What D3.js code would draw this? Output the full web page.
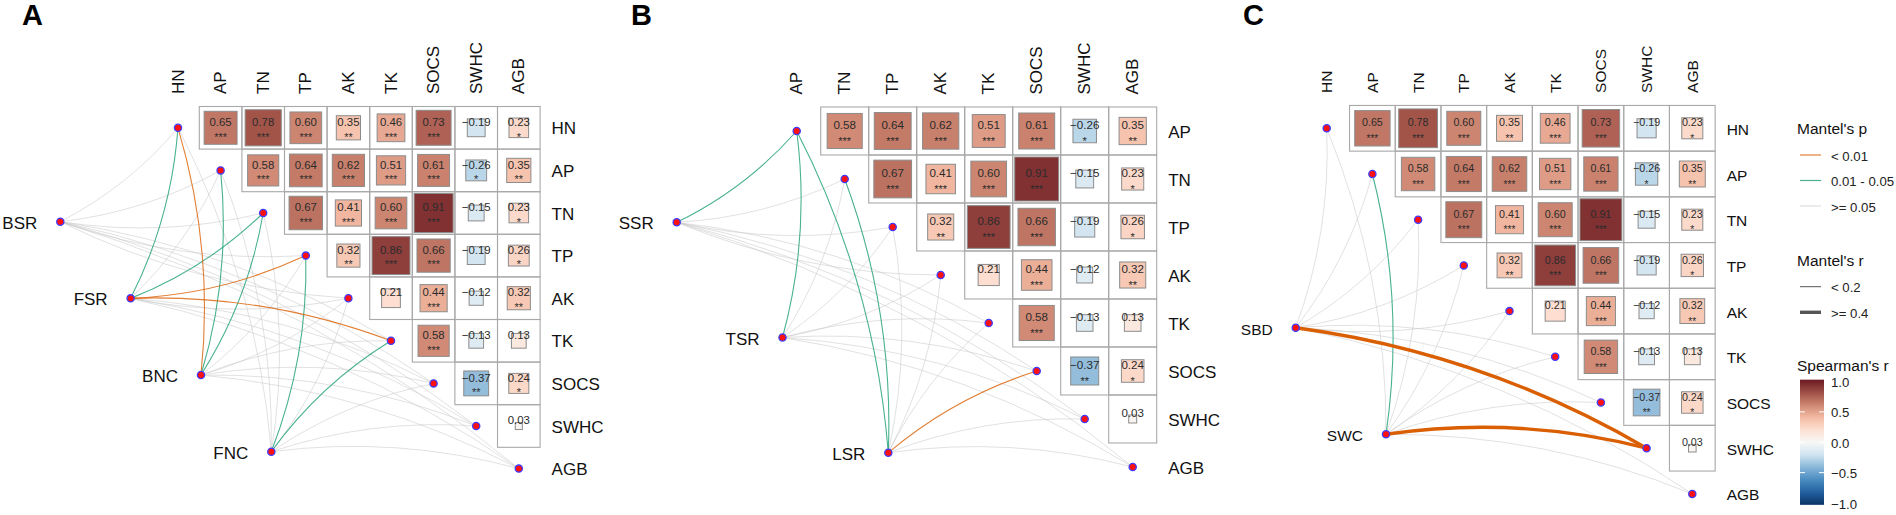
<!DOCTYPE html>
<html><head><meta charset="utf-8">
<script src="https://cdn.jsdelivr.net/npm/d3@7"></script>
<style>body{margin:0;background:#fff} svg{display:block} text{font-family:"Liberation Sans",Arial,Helvetica,sans-serif}</style>
</head><body><svg id="chart" width="1896" height="515"></svg>
<script>
// ---------------- DATA ----------------
const variables = ["HN","AP","TN","TP","AK","TK","SOCS","SWHC","AGB"];
// Spearman's r, upper triangle: row i holds columns i+1 .. end
const spearmanRows = [
  [0.65,0.78,0.60,0.35,0.46,0.73,-0.19,0.23],
  [0.58,0.64,0.62,0.51,0.61,-0.26,0.35],
  [0.67,0.41,0.60,0.91,-0.15,0.23],
  [0.32,0.86,0.66,-0.19,0.26],
  [0.21,0.44,-0.12,0.32],
  [0.58,-0.13,0.13],
  [-0.37,0.24],
  [0.03]
];
const spearmanStars = [
  ["***","***","***","**","***","***","","*"],
  ["***","***","***","***","***","*","**"],
  ["***","***","***","***","","*"],
  ["**","***","***","","*"],
  ["","***","","**"],
  ["***","",""],
  ["**","*"],
  [""]
];
const envA = ["BSR","FSR","BNC","FNC"];
const envB = ["SSR","TSR","LSR"];
const envC = ["SBD","SWC"];
// Mantel's p class: "a" = < 0.01, "b" = 0.01 - 0.05, "c" = >= 0.05
const mantelPA = [
  ["c","c","c","c","c","c","c","c","c"],
  ["b","c","b","a","c","a","c","c","c"],
  ["a","b","b","c","c","c","c","c","c"],
  ["c","c","c","b","c","b","c","c","c"]
];
const mantelPB = [
  ["b","c","c","c","c","c","c","c"],
  ["b","c","c","c","c","c","c","c"],
  ["b","b","c","c","c","a","c","c"]
];
const mantelPC = [
  ["c","c","c","c","c","c","c","a","c"],
  ["c","b","c","c","c","c","c","a","c"]
];
// Mantel's r class: "s" = < 0.2, "l" = >= 0.4
const mantelRA = [
  ["s","s","s","s","s","s","s","s","s"],
  ["s","s","s","s","s","s","s","s","s"],
  ["s","s","s","s","s","s","s","s","s"],
  ["s","s","s","s","s","s","s","s","s"]
];
const mantelRB = [
  ["s","s","s","s","s","s","s","s"],
  ["s","s","s","s","s","s","s","s"],
  ["s","s","s","s","s","s","s","s"]
];
const mantelRC = [
  ["s","s","s","s","s","s","s","l","s"],
  ["s","s","s","s","s","s","s","l","s"]
];
const legendPLabels = ["< 0.01","0.01 - 0.05",">= 0.05"];
const legendPKeys = ["a","b","c"];
const legendRLabels = ["< 0.2",">= 0.4"];
const legendRKeys = ["s","l"];
const colorbarTicks = [1.0,0.5,0.0,-0.5,-1.0];

// ---------------- STYLE / LAYOUT ----------------
const pColor = {a:"#d95f02", b:"#1b9e77", c:"#c8c8c8"};
const pOpacity = {a:0.8, b:0.8, c:0.6};
const rWidth = {s:1.1, l:3.4};
const fillScale = d3.scaleLinear()
  .domain([-1,-0.8,-0.6,-0.4,-0.2,0,0.2,0.4,0.6,0.8,1])
  .range(["#0b3466","#22609f","#4a8cc0","#88b6d7","#d0e4f0","#f7f7f7","#fde0d2","#f3b9a2","#cc8570","#9e4e45","#6a1a22"])
  .interpolate(d3.interpolateRgb);

const svg = d3.select("#chart");

function drawPanel(cfg) {
  const vars = cfg.vars, n = vars.length, s = cfg.step;
  const x = d3.scalePoint().domain(vars).range([cfg.x0, cfg.x0 + (n-1)*s]);
  const y = d3.scalePoint().domain(vars).range([cfg.y0, cfg.y0 + (n-1)*s]);
  const g = svg.append("g");
  const offset = variables.indexOf(vars[0]);

  // cells
  const cells = [];
  vars.forEach((rv, i) => {
    const row = spearmanRows[i + offset], stars = spearmanStars[i + offset];
    for (let j = i+1; j < n; j++) {
      cells.push({row: rv, col: vars[j], r: row[j - i - 1], star: stars[j - i - 1]});
    }
  });
  g.selectAll("rect.cell").data(cells).join("rect")
    .attr("x", d => x(d.col) - s/2).attr("y", d => y(d.row) - s/2)
    .attr("width", s).attr("height", s)
    .attr("fill", "none").attr("stroke", "#a9a9a9").attr("stroke-width", 1.1);
  g.selectAll("rect.sq").data(cells).join("rect")
    .attr("x", d => x(d.col) - Math.sqrt(Math.abs(d.r))*s*0.96/2)
    .attr("y", d => y(d.row) - Math.sqrt(Math.abs(d.r))*s*0.96/2)
    .attr("width", d => Math.sqrt(Math.abs(d.r))*s*0.96)
    .attr("height", d => Math.sqrt(Math.abs(d.r))*s*0.96)
    .attr("fill", d => fillScale(d.r)).attr("stroke", "#8c8c8c").attr("stroke-width", 1);
  g.selectAll("text.val").data(cells).join("text")
    .attr("x", d => x(d.col)).attr("y", d => y(d.row) - 0.04*s)
    .attr("text-anchor", "middle").attr("font-size", cfg.valFont).attr("fill", "#2b2b2b")
    .text(d => d3.format(".2f")(d.r));
  g.selectAll("text.star").data(cells).join("text")
    .attr("x", d => x(d.col)).attr("y", d => y(d.row) + 0.30*s)
    .attr("text-anchor", "middle").attr("font-size", cfg.valFont*0.95).attr("fill", "#2b2b2b")
    .text(d => d.star);

  // column labels
  const gridTop = cfg.y0 - s/2;
  g.selectAll("text.col").data(vars).join("text")
    .attr("transform", d => `translate(${x(d)},${gridTop - 12.5}) rotate(-90)`)
    .attr("text-anchor", "start").attr("dominant-baseline", "central")
    .attr("font-size", cfg.labFont).attr("fill", "#111").text(d => d);
  // row labels
  const gridRight = cfg.x0 + (n-1)*s + s/2;
  g.selectAll("text.rowl").data(vars).join("text")
    .attr("x", gridRight + 11.5).attr("y", d => y(d) + 1)
    .attr("dominant-baseline", "central")
    .attr("font-size", cfg.labFont).attr("fill", "#111").text(d => d);

  // env nodes and Mantel links
  const ex = d3.scalePoint().domain(cfg.env).range(cfg.envX);
  const ey = d3.scalePoint().domain(cfg.env).range(cfg.envY);
  const links = [];
  cfg.env.forEach((e, i) => vars.forEach((v, j) => {
    links.push({e, v, j, p: cfg.mp[i][j], r: cfg.mr[i][j]});
  }));
  const order = {c:0, b:1, a:2};
  links.sort((a, b) => order[a.p] - order[b.p]);
  g.selectAll("path.link").data(links).join("path")
    .attr("d", d => {
      const x1 = ex(d.e), y1 = ey(d.e), x2 = x(d.v), y2 = y(d.v);
      const dx = x2 - x1, dy = y2 - y1, L = Math.hypot(dx, dy);
      const side = d.j < n/2 ? 1 : -1;
      const k = 0.1 * L * side;
      const p = d3.path();
      p.moveTo(x1, y1);
      p.quadraticCurveTo((x1+x2)/2 - dy/L*k, (y1+y2)/2 + dx/L*k, x2, y2);
      return p.toString();
    })
    .attr("fill", "none").attr("stroke", d => pColor[d.p])
    .attr("stroke-opacity", d => d.r === "l" ? 1 : pOpacity[d.p])
    .attr("stroke-width", d => d.p === "c" ? 0.9 : rWidth[d.r]);

  g.selectAll("circle.mn").data(vars).join("circle")
    .attr("cx", d => x(d)).attr("cy", d => y(d)).attr("r", 3.6)
    .attr("fill", "#ff1010").attr("stroke", "#3c3cff").attr("stroke-width", 1.3);
  g.selectAll("circle.en").data(cfg.env).join("circle")
    .attr("cx", d => ex(d)).attr("cy", d => ey(d)).attr("r", 3.6)
    .attr("fill", "#ff1010").attr("stroke", "#3c3cff").attr("stroke-width", 1.3);
  g.selectAll("text.env").data(cfg.env).join("text")
    .attr("x", d => ex(d) - 23).attr("y", d => ey(d) + 1.5)
    .attr("text-anchor", "end").attr("dominant-baseline", "central")
    .attr("font-size", cfg.labFont).attr("fill", "#111").text(d => d);

  svg.append("text").attr("x", cfg.tag[0]).attr("y", cfg.tag[1])
    .attr("font-size", 29).attr("font-weight", "bold").attr("fill", "#000").text(cfg.tagText);
}

drawPanel({vars: variables, x0: 178, y0: 127.8, step: 42.6, labFont: 17, valFont: 11.4,
  env: envA, envX: [60.3, 271.3], envY: [221.7, 451.7], mp: mantelPA, mr: mantelRA,
  tag: [22, 25], tagText: "A"});
drawPanel({vars: variables.slice(1), x0: 796.7, y0: 131, step: 48, labFont: 17, valFont: 11.6,
  env: envB, envX: [676.7, 888.3], envY: [222.3, 452.7], mp: mantelPB, mr: mantelRB,
  tag: [631, 25], tagText: "B"});
drawPanel({vars: variables, x0: 1326.7, y0: 128.3, step: 45.7, labFont: 15.5, valFont: 10.7,
  env: envC, envX: [1295.7, 1386], envY: [327.7, 434.3], mp: mantelPC, mr: mantelRC,
  tag: [1243, 25], tagText: "C"});

// ---------------- LEGEND ----------------
const lg = svg.append("g");
lg.append("text").attr("x", 1797).attr("y", 128).attr("dominant-baseline", "central")
  .attr("font-size", 15.5).attr("fill", "#111").text("Mantel's p");
const pY = d3.scalePoint().domain(legendPKeys).range([155, 206]);
lg.selectAll("line.lp").data(legendPKeys).join("line")
  .attr("x1", 1800).attr("x2", 1821).attr("y1", d => pY(d)).attr("y2", d => pY(d))
  .attr("stroke", d => pColor[d]).attr("stroke-opacity", d => pOpacity[d]).attr("stroke-width", 1.2);
lg.selectAll("text.lp").data(legendPKeys).join("text")
  .attr("x", 1831).attr("y", d => pY(d) + 1).attr("dominant-baseline", "central")
  .attr("font-size", 13.2).attr("fill", "#222").text((d, i) => legendPLabels[i]);

lg.append("text").attr("x", 1797).attr("y", 260).attr("dominant-baseline", "central")
  .attr("font-size", 15.5).attr("fill", "#111").text("Mantel's r");
const rY = d3.scalePoint().domain(legendRKeys).range([286.7, 312.3]);
lg.selectAll("line.lr").data(legendRKeys).join("line")
  .attr("x1", 1800).attr("x2", 1821).attr("y1", d => rY(d)).attr("y2", d => rY(d))
  .attr("stroke", "#555").attr("stroke-width", d => d === "s" ? 1 : 3.4);
lg.selectAll("text.lr").data(legendRKeys).join("text")
  .attr("x", 1831).attr("y", d => rY(d) + 1).attr("dominant-baseline", "central")
  .attr("font-size", 13.2).attr("fill", "#222").text((d, i) => legendRLabels[i]);

lg.append("text").attr("x", 1797).attr("y", 365.7).attr("dominant-baseline", "central")
  .attr("font-size", 15.5).attr("fill", "#111").text("Spearman's r");
const cbY = d3.scaleLinear().domain([-1, 1]).range([503, 381.5]);
const defs = svg.append("defs");
const grad = defs.append("linearGradient").attr("id", "cbgrad")
  .attr("x1", 0).attr("x2", 0).attr("y1", 1).attr("y2", 0);
d3.range(0, 1.0001, 0.05).forEach(t => {
  grad.append("stop").attr("offset", t).attr("stop-color", fillScale(-1 + 2*t));
});
lg.append("rect").attr("x", 1800).attr("y", cbY(1.03)).attr("width", 24)
  .attr("height", cbY(-1.03) - cbY(1.03)).attr("fill", "url(#cbgrad)");
lg.selectAll("g.cbt").data(colorbarTicks.filter(v => Math.abs(v) < 1)).join("g")
  .each(function(v) {
    d3.select(this).append("line").attr("x1", 1800).attr("x2", 1805).attr("y1", cbY(v)).attr("y2", cbY(v))
      .attr("stroke", "#fff").attr("stroke-width", 1);
    d3.select(this).append("line").attr("x1", 1819).attr("x2", 1824).attr("y1", cbY(v)).attr("y2", cbY(v))
      .attr("stroke", "#fff").attr("stroke-width", 1);
  });
lg.selectAll("text.cbt").data(colorbarTicks).join("text")
  .attr("x", 1831).attr("y", d => cbY(d) + 1).attr("dominant-baseline", "central")
  .attr("font-size", 13.2).attr("fill", "#222").text(d => d3.format(".1f")(d));
</script>
</body></html>
